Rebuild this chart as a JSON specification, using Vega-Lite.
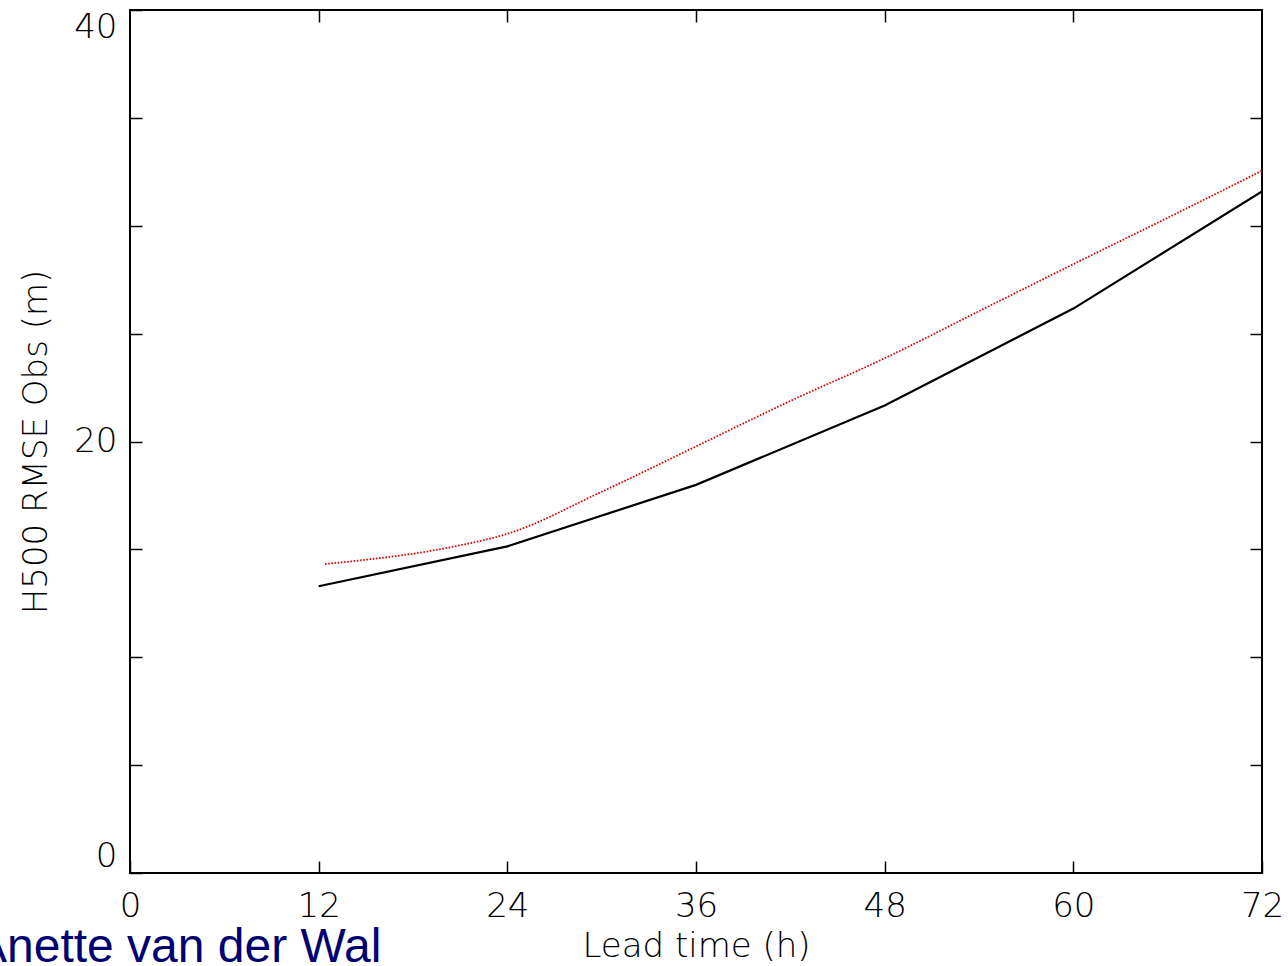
{
  "$schema": "https://vega.github.io/schema/vega-lite/v6.json",
  "width": 1132,
  "height": 863,
  "autosize": {"type": "none"},
  "padding": {"left": 130, "top": 10, "right": 26, "bottom": 93},
  "background": "white",
  "title": {
    "text": "Anette van der Wal",
    "orient": "bottom",
    "anchor": "start",
    "frame": "group",
    "font": "Liberation Sans",
    "fontSize": 48,
    "fontWeight": "normal",
    "color": "#000073",
    "baseline": "alphabetic",
    "dx": -155,
    "offset": -1
  },
  "config": {
    "view": {"stroke": "#000000", "strokeWidth": 2},
    "axis": {
      "grid": false,
      "domain": false,
      "tickColor": "#000000",
      "tickWidth": 1.5,
      "labelFont": "DejaVu Sans",
      "labelFontWeight": 200,
      "labelFontSize": 34,
      "labelColor": "#000000",
      "titleFont": "DejaVu Sans",
      "titleFontWeight": 200,
      "titleFontSize": 34,
      "titleColor": "#000000"
    }
  },
  "datasets": {
    "control": [
      {"lead": 12, "rmse": 13.29},
      {"lead": 24, "rmse": 15.14},
      {"lead": 36, "rmse": 17.99},
      {"lead": 48, "rmse": 21.67},
      {"lead": 60, "rmse": 26.16},
      {"lead": 72, "rmse": 31.59}
    ],
    "experiment": [
      {"lead": 12.4, "rmse": 14.32},
      {"lead": 15, "rmse": 14.52},
      {"lead": 18, "rmse": 14.8},
      {"lead": 21, "rmse": 15.19},
      {"lead": 24, "rmse": 15.72},
      {"lead": 30, "rmse": 17.67},
      {"lead": 36, "rmse": 19.77},
      {"lead": 42, "rmse": 21.88},
      {"lead": 48, "rmse": 23.86},
      {"lead": 54, "rmse": 26.04},
      {"lead": 60, "rmse": 28.22},
      {"lead": 66, "rmse": 30.37},
      {"lead": 72, "rmse": 32.55}
    ]
  },
  "layer": [
    {
      "data": {"name": "control"},
      "mark": {"type": "line", "color": "#000000", "strokeWidth": 2.2, "clip": true},
      "encoding": {
        "x": {
          "field": "lead",
          "type": "quantitative",
          "scale": {"domain": [0, 72], "nice": false, "zero": false},
          "axis": {
            "orient": "bottom",
            "title": "Lead time (h)",
            "values": [0, 12, 24, 36, 48, 60, 72],
            "labelFlush": false,
            "tickSize": -12,
            "labelPadding": 28,
            "titlePadding": 6
          }
        },
        "y": {
          "field": "rmse",
          "type": "quantitative",
          "scale": {"domain": [0, 40], "nice": false},
          "axis": {
            "orient": "left",
            "title": "H500 RMSE Obs (m)",
            "values": [0, 5, 10, 15, 20, 25, 30, 35, 40],
            "labelExpr": "datum.value % 20 === 0 ? datum.label : ''",
            "labelFlush": true,
            "tickSize": -12,
            "labelPadding": 25,
            "titlePadding": 20
          }
        }
      }
    },
    {
      "data": {"name": "experiment"},
      "mark": {"type": "line", "color": "#e00000", "strokeWidth": 1.8, "strokeDash": [1.6, 1.6], "interpolate": "monotone", "clip": true},
      "encoding": {
        "x": {
          "field": "lead",
          "type": "quantitative",
          "axis": {
            "orient": "top",
            "title": null,
            "labels": false,
            "values": [12, 24, 36, 48, 60],
            "tickSize": -12
          }
        },
        "y": {
          "field": "rmse",
          "type": "quantitative",
          "axis": {
            "orient": "right",
            "title": null,
            "labels": false,
            "values": [5, 10, 15, 20, 25, 30, 35],
            "tickSize": -12
          }
        }
      }
    }
  ]
}
